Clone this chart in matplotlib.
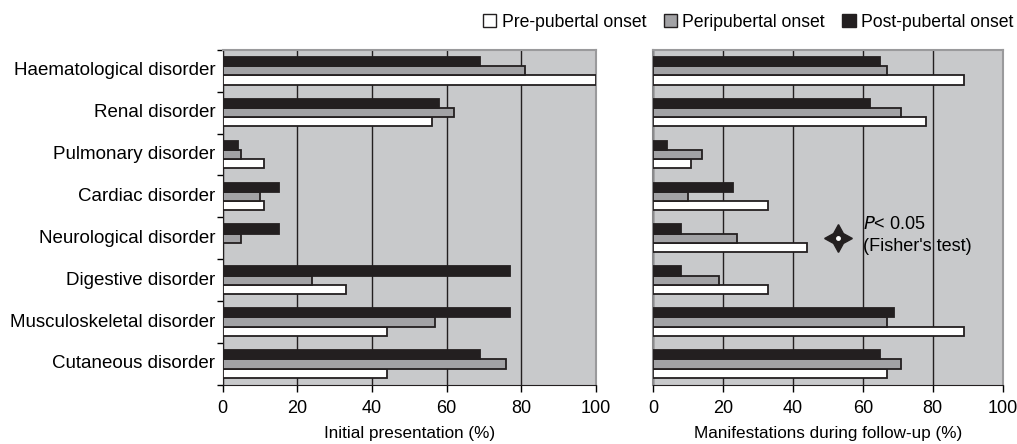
import matplotlib.pyplot as plt
import numpy as np
from matplotlib.patches import Patch

plt.rcParams['font.family'] = ['Liberation Sans', 'DejaVu Sans']

categories = ['Haematological disorder', 'Renal disorder', 'Pulmonary disorder',
              'Cardiac disorder', 'Neurological disorder', 'Digestive disorder',
              'Musculoskeletal disorder', 'Cutaneous disorder']
series = ['Pre-pubertal onset', 'Peripubertal onset', 'Post-pubertal onset']

# initial presentation (%)
initial_pre = [100, 56, 11, 11, 0, 33, 44, 44]
initial_peri = [81, 62, 5, 10, 5, 24, 57, 76]
initial_post = [69, 58, 4, 15, 15, 77, 77, 69]

# manifestations during follow-up (%)
follow_pre = [89, 78, 11, 33, 44, 33, 89, 67]
follow_peri = [67, 71, 14, 10, 24, 19, 67, 71]
follow_post = [65, 62, 4, 23, 8, 8, 69, 65]

colors = ['white', '#a2a2a5', '#231f20']
bg = '#c8c9cb'

fig = plt.figure(figsize=(10.17, 4.44), dpi=100)
ax1 = fig.add_axes([0.219, 0.133, 0.367, 0.755])
ax2 = fig.add_axes([0.642, 0.133, 0.344, 0.755])

y = np.arange(len(categories))
h = 0.22


def draw(ax, pre, peri, post, xlabel, yticks):
    ax.set_facecolor(bg)
    vals = [pre, peri, post]
    for i, v in enumerate(vals):
        ax.barh(y + (1 - i) * h, v, height=h, color=colors[i],
                edgecolor='#231f20', linewidth=1.3, zorder=3)
    ax.set_xlim(0, 100)
    ax.set_ylim(len(categories) - 0.5, -0.5)
    ax.set_xticks([0, 20, 40, 60, 80, 100])
    ax.xaxis.grid(True, color='#231f20', linewidth=1.0, zorder=1)
    ax.set_axisbelow(True)
    if yticks:
        ax.set_yticks(np.arange(-0.5, len(categories), 1))
        ax.tick_params(axis='y', length=4, width=1)
        ax.spines['left'].set_color('#231f20')
    else:
        ax.set_yticks([])
        ax.spines['left'].set_color('#8a8a8c')
        ax.spines['left'].set_linewidth(1.5)
    ax.set_yticklabels([])
    ax.tick_params(axis='x', length=5, width=1, labelsize=13, pad=6)
    ax.set_xlabel(xlabel, fontsize=12.3, labelpad=6)
    ax.spines['bottom'].set_color('#231f20')
    ax.spines['top'].set_color('#9a9a9c')
    ax.spines['right'].set_color('#9a9a9c')
    ax.spines['top'].set_linewidth(1.5)
    ax.spines['right'].set_linewidth(1.5)


draw(ax1, initial_pre, initial_peri, initial_post, 'Initial presentation (%)', True)
draw(ax2, follow_pre, follow_peri, follow_post, 'Manifestations during follow-up (%)', False)

for i, c in enumerate(categories):
    ax1.text(-0.02, i, c, transform=ax1.get_yaxis_transform(),
             ha='right', va='center', fontsize=13.5)

# significance marker
ax2.plot([53], [4.0], marker=(4, 1, 0), markersize=20, color='#231f20', zorder=5)
ax2.plot([53], [4.0], marker='o', markersize=2.5, color='white', zorder=6)
ax2.text(60, 3.66, r'$\it{P}$< 0.05', fontsize=13, va='center', zorder=6)
ax2.text(60, 4.2, "(Fisher's test)", fontsize=13, va='center', zorder=6)

handles = [Patch(facecolor=colors[i], edgecolor='#231f20', linewidth=1.0, label=s)
           for i, s in enumerate(series)]
fig.legend(handles=handles, loc='upper right', bbox_to_anchor=(1.012, 1.005), ncol=3,
           frameon=False, fontsize=12.7, handlelength=0.75, handleheight=0.75,
           handletextpad=0.3, columnspacing=1.0)

plt.savefig('out.png', dpi=100)
